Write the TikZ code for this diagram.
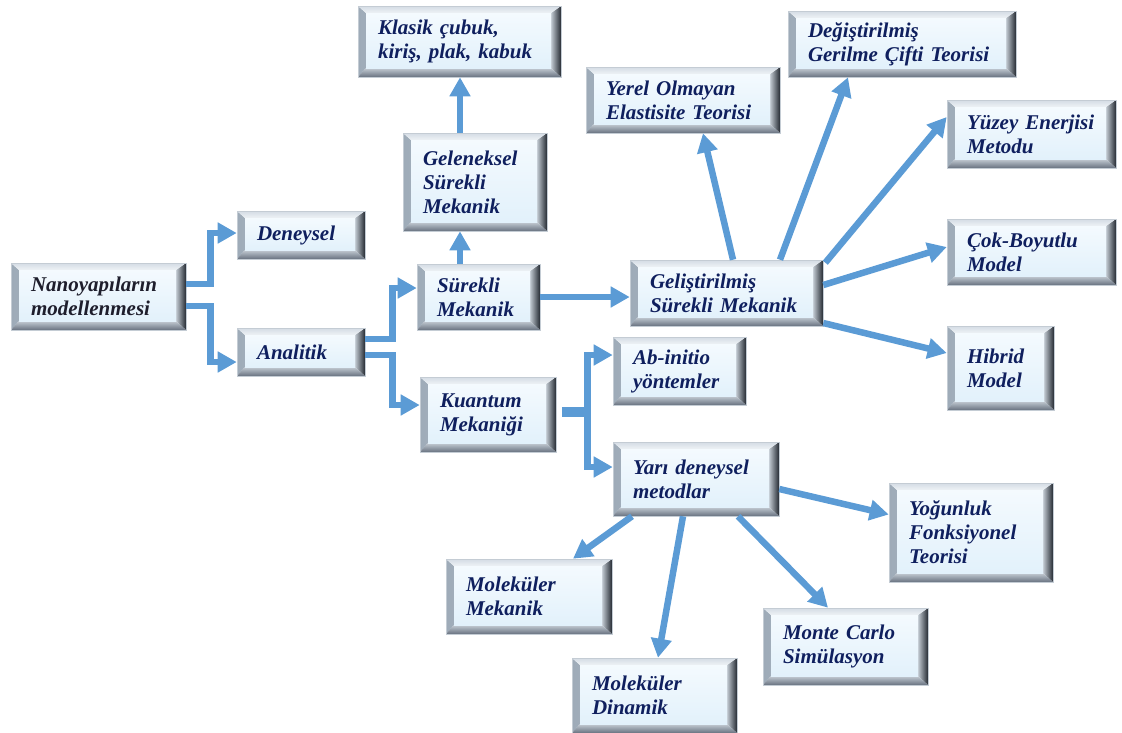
\documentclass[tikz,border=0pt]{standalone}
\usepackage{fontspec}
\setmainfont{Liberation Serif}
\usetikzlibrary{arrows.meta}
\definecolor{navy}{HTML}{0F1F5E}
\definecolor{darktxt}{HTML}{1E1E2C}
\definecolor{arr}{HTML}{5B9BD5}
\definecolor{bord}{HTML}{C4CCD4}
\definecolor{topA}{HTML}{D4DCE4}
\definecolor{topB}{HTML}{EEF2F6}
\definecolor{lfA}{HTML}{9EABB8}
\definecolor{lfB}{HTML}{C8D2DC}
\definecolor{rtA}{HTML}{C2CAD2}
\definecolor{rtB}{HTML}{242A32}
\definecolor{btA}{HTML}{C4CCD4}
\definecolor{btB}{HTML}{687280}
\definecolor{faceA}{HTML}{F4FAFE}
\definecolor{faceB}{HTML}{E2F1FB}
\newcommand{\pbb}{path picture bounding box}
\newcommand{\boxfont}{\fontsize{21}{24}\selectfont\bfseries\itshape}
\tikzset{
  box/.style={rectangle, inner xsep=20pt, inner ysep=0pt, align=left,
    font=\boxfont, text=navy, draw=bord, line width=0.6pt,
    path picture={
      \shade[left color=lfA, right color=lfB] (\pbb.north west) -- ([xshift=8pt,yshift=-7pt]\pbb.north west) -- ([xshift=8pt,yshift=9pt]\pbb.south west) -- (\pbb.south west) -- cycle;
      \shade[left color=rtA, right color=rtB] ([xshift=-10pt,yshift=-7pt]\pbb.north east) -- (\pbb.north east) -- (\pbb.south east) -- ([xshift=-10pt,yshift=9pt]\pbb.south east) -- cycle;
      \shade[top color=btA, bottom color=btB] ([xshift=8pt,yshift=9pt]\pbb.south west) -- ([xshift=-10pt,yshift=9pt]\pbb.south east) -- (\pbb.south east) -- (\pbb.south west) -- cycle;
      \shade[top color=topA, bottom color=topB] (\pbb.north west) -- (\pbb.north east) -- ([xshift=-10pt,yshift=-7pt]\pbb.north east) -- ([xshift=8pt,yshift=-7pt]\pbb.north west) -- cycle;
      \shade[top color=faceA, bottom color=faceB] ([xshift=8pt,yshift=-7pt]\pbb.north west) rectangle ([xshift=-10pt,yshift=9pt]\pbb.south east);
    }},
  conn/.style={draw=arr, line width=6.5pt, line join=miter, -{Triangle[length=19pt,width=20pt]}},
  bar/.style={draw=arr, line width=10pt}
}
\begin{document}
\begin{tikzpicture}[x=1pt,y=-1pt]
\useasboundingbox (0,0) rectangle (1122,732);

\node[box, text=darktxt, text width=135pt, minimum height=67pt] (n1) at (98.5,296.5) {Nanoyapıların\\modellenmesi};
\node[box, text width=88pt, minimum height=48pt] (den) at (301,235) {Deneysel};
\node[box, text width=88pt, minimum height=48pt] (ana) at (301,352) {Analitik};
\node[box, text width=83pt, minimum height=66pt] (sur) at (478.5,297) {Sürekli\\Mekanik};
\node[box, text width=96pt, minimum height=75pt] (kua) at (488,414.5) {Kuantum\\Mekaniği};
\node[box, text width=104pt, minimum height=98pt] (gel) at (475,182) {Geleneksel\\Sürekli\\Mekanik};
\node[box, text width=163pt, minimum height=71pt] (kla) at (459.5,41.5) {Klasik~çubuk,\\kiriş,~plak,~kabuk};
\node[box, text width=154pt, minimum height=66pt] (yer) at (683,100) {Yerel~Olmayan\\Elastisite~Teorisi};
\node[box, text width=188pt, minimum height=66pt] (deg) at (902,44) {Değiştirilmiş\\Gerilme~Çifti~Teorisi};
\node[box, text width=129pt, minimum height=68pt] (yuz) at (1031.5,134) {Yüzey~Enerjisi\\Metodu};
\node[box, text width=153pt, minimum height=66pt] (gelis) at (726.5,293) {Geliştirilmiş\\Sürekli~Mekanik};
\node[box, text width=129pt, minimum height=66pt] (cok) at (1031.5,252) {Çok-Boyutlu\\Model};
\node[box, text width=67pt, minimum height=84pt] (hib) at (1000.5,368) {Hibrid\\Model};
\node[box, text width=93pt, minimum height=68pt] (abi) at (679.5,371) {Ab-initio\\yöntemler};
\node[box, text width=126pt, minimum height=74pt] (yar) at (696,479) {Yarı~deneysel\\metodlar};
\node[box, text width=124pt, minimum height=99pt] (yog) at (971,532.5) {Yoğunluk\\Fonksiyonel\\Teorisi};
\node[box, text width=126pt, minimum height=75pt] (mm) at (529,596.5) {Moleküler\\Mekanik};
\node[box, text width=125pt, minimum height=75pt] (md) at (654.5,695.5) {Moleküler\\Dinamik};
\node[box, text width=125pt, minimum height=77pt] (mc) at (845.5,646.5) {Monte~Carlo\\Simülasyon};

\draw[conn] ([yshift=12.5pt]n1.east) -- ++(24,0) |- ([yshift=2pt]den.west);
\draw[conn] ([yshift=-9.5pt]n1.east) -- ++(24,0) |- ([yshift=-10pt]ana.west);
\draw[conn] ([yshift=13pt]ana.east) -- ++(27,0) |- ([yshift=9pt]sur.west);
\draw[conn] ([yshift=-3pt]ana.east) -- ++(27,0) |- ([yshift=9.5pt]kua.west);

\draw[bar] ([xshift=6pt,yshift=2.5pt]kua.east) -- ++(28,0);
\coordinate (kj) at ([xshift=31pt,yshift=2.5pt]kua.east);
\draw[conn] (kj) |- ([yshift=16pt]abi.west);
\draw[conn] (kj) |- ([yshift=12pt]yar.west);

\draw[conn] (sur.east) -- (sur.east -| gelis.west);
\draw[conn] ([xshift=-18.5pt]sur.north) -- ([xshift=-15pt]gel.south);
\draw[conn] ([xshift=-15pt]gel.north) -- ([xshift=0.5pt]kla.south);

\draw[conn] ([xshift=6.5pt]gelis.north) -- ([xshift=20pt]yer.south);
\draw[conn] ([xshift=53.5pt]gelis.north) -- ([xshift=-54pt]deg.south);
\draw[conn] ([xshift=2pt,yshift=-3pt]gelis.north east) -- ([yshift=17pt]yuz.west);
\draw[conn] ([yshift=8pt]gelis.east) -- ([yshift=5pt]cok.west);
\draw[conn] ([yshift=-30pt]gelis.east) -- ([yshift=15pt]hib.west);

\draw[conn] ([yshift=-10pt]yar.east) -- ([yshift=18pt]yog.west);
\draw[conn] ([xshift=-64pt]yar.south) -- ([xshift=44pt]mm.north);
\draw[conn] ([xshift=-13pt]yar.south) -- ([xshift=3.5pt]md.north);
\draw[conn] ([xshift=42pt]yar.south) -- ([xshift=-17.5pt]mc.north);
\end{tikzpicture}
\end{document}
